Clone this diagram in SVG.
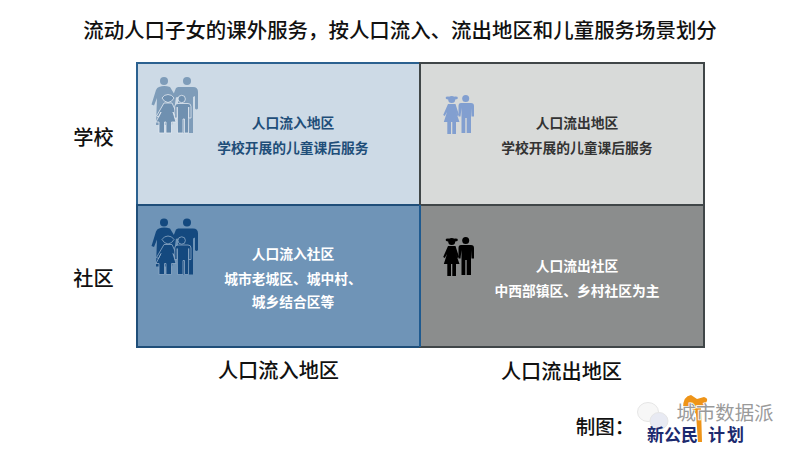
<svg xmlns="http://www.w3.org/2000/svg" width="800" height="450" viewBox="0 0 800 450">
<style>
text{font-family:"Noto Sans CJK SC","Noto Sans",sans-serif;text-anchor:middle}
.h{font-size:20.200px;font-weight:500;fill:#111}
.c{font-size:13.750px;font-weight:700}
.a{stroke-width:0.800;stroke-linejoin:round}
</style>
<defs>
<g id="adults">
<circle cx="164" cy="81" r="4"/><circle cx="187" cy="81" r="4"/>
<path d="M159 87Q164 85 170 87L176 97L172 125H156L157 98L154 105.500L151.500 104.500L156 90Q157 87.500 159 87Z"/>
<path d="M178 87H193Q198 87 198 92V108.500Q196.500 110.500 195 108.500V96L193 97V133H178L178 97L172 98L176 88Z"/>
</g>
<g id="kids">
<path d="M162 98Q164 94.500 168 94.500Q172 94.500 174 98Q172 102 168 102.500Q164 102 162 98Z"/>
<path d="M164 103H172L178 116L176 117.500L173 112L176 122H171.500V133H166V122H164.500V133H159V122H156L161 112L158.500 117L156.500 116Z"/>
<circle cx="181.700" cy="99" r="3.700"/>
<path d="M178 103.500H188Q191 103.500 191 106.500V118H188.700V107L188.500 133H184.500V119H183V133H177.500L177.200 107V118H174.800V106.500Q174.800 103.500 178 103.500Z"/>
</g>
<g id="couple">
<circle cx="451.700" cy="99.500" r="3.500"/><ellipse cx="448" cy="98" rx="2.400" ry="1.400"/><ellipse cx="455.500" cy="98" rx="2.400" ry="1.400"/>
<path d="M448 104H455.500L459 115L457.500 116L456 112L459.500 122H456V134H452.300V122H451V134H447.300V122H443.800L447 112L444.800 116L443.200 115Z"/>
<circle cx="465.700" cy="98.500" r="3.500"/>
<path d="M461 103H471Q474 103 474 106V116.500H471.500L471 108V133H466.700V118H465.300V133H461.500L461.500 108L460.500 116.500H458.500V106Q458.500 103 461 103Z"/>
</g>
</defs>
<rect width="800" height="450" fill="#fff"/>
<text x="400" y="38" style="font-size:20.450px;font-weight:500" fill="#111">流动人口子女的课外服务，按人口流入、流出地区和儿童服务场景划分</text>

<g id="cell-school-in">
<rect x="137" y="63" width="283" height="142" fill="#cddae6" stroke="#2b6190" stroke-width="2"/>
<use href="#adults" fill="#7e9cb9"/>
<use href="#kids" fill="#6f90b0" stroke="#e3eaf1" class="a"/>
<text class="c" x="293" y="128" fill="#1f4e79">人口流入地区</text>
<text class="c" x="293" y="153" fill="#1f4e79">学校开展的儿童课后服务</text>
</g>
<g id="cell-school-out">
<rect x="420" y="63" width="284" height="142" fill="#d8dad9" stroke="#404648" stroke-width="2"/>
<use href="#couple" fill="#829fd0"/>
<text class="c" x="577" y="128" fill="#333">人口流出地区</text>
<text class="c" x="577" y="153" fill="#333">学校开展的儿童课后服务</text>
</g>
<g id="cell-community-in">
<rect x="137" y="205" width="283" height="142" fill="#6f94b7" stroke="#1f4e79" stroke-width="2"/>
<use href="#adults" y="141.500" fill="#14497f"/>
<use href="#kids" y="141.500" fill="#14497f" stroke="#8fabc6" class="a"/>
<text class="c" x="293" y="259" fill="#fff">人口流入社区</text>
<text class="c" x="293" y="284" fill="#fff">城市老城区、城中村、</text>
<text class="c" x="293" y="307" fill="#fff">城乡结合区等</text>
</g>
<g id="cell-community-out">
<rect x="420" y="205" width="284" height="142" fill="#8b8d8d" stroke="#404648" stroke-width="2"/>
<line x1="420" y1="205" x2="420" y2="347" stroke="#1f5a8f" stroke-width="2"/>
<use href="#couple" y="142" fill="#000"/>
<text class="c" x="577" y="271" fill="#fff">人口流出社区</text>
<text class="c" x="577" y="296" fill="#fff">中西部镇区、乡村社区为主</text>
</g>

<g id="axis-labels">
<text class="h" x="93.500" y="145">学校</text>
<text class="h" x="93.500" y="286">社区</text>
<text class="h" x="278.500" y="378">人口流入地区</text>
<text class="h" x="561.500" y="379">人口流出地区</text>
</g>

<g id="credit">
<text class="h" x="605" y="434" style="font-size:19.500px">制图：</text>
<ellipse cx="648" cy="412" rx="10.500" ry="9.500" fill="#f7f7f7" stroke="#e6e6e6"/>
<ellipse cx="659" cy="421" rx="9" ry="8.500" fill="#e8eaf3" stroke="#e6e6e6"/>
<path d="M683 408Q683 396 691 395L697 399L704 397Q708 398 707 401Q705 405 701 408L702 442H698L696 414Q692 406 683 408Z" fill="#ee9418"/>
<text y="441" style="font-size:17px;font-weight:700;text-anchor:start" fill="#1c2a6e"><tspan x="647">新</tspan><tspan x="664">公</tspan><tspan x="681">民</tspan><tspan x="708">计</tspan><tspan x="727">划</tspan></text>
<text x="725" y="420" style="font-size:19.400px;stroke:#fff;stroke-width:1.500px;paint-order:stroke" fill="#9a9a9a">城市数据派</text>
</g>
</svg>
